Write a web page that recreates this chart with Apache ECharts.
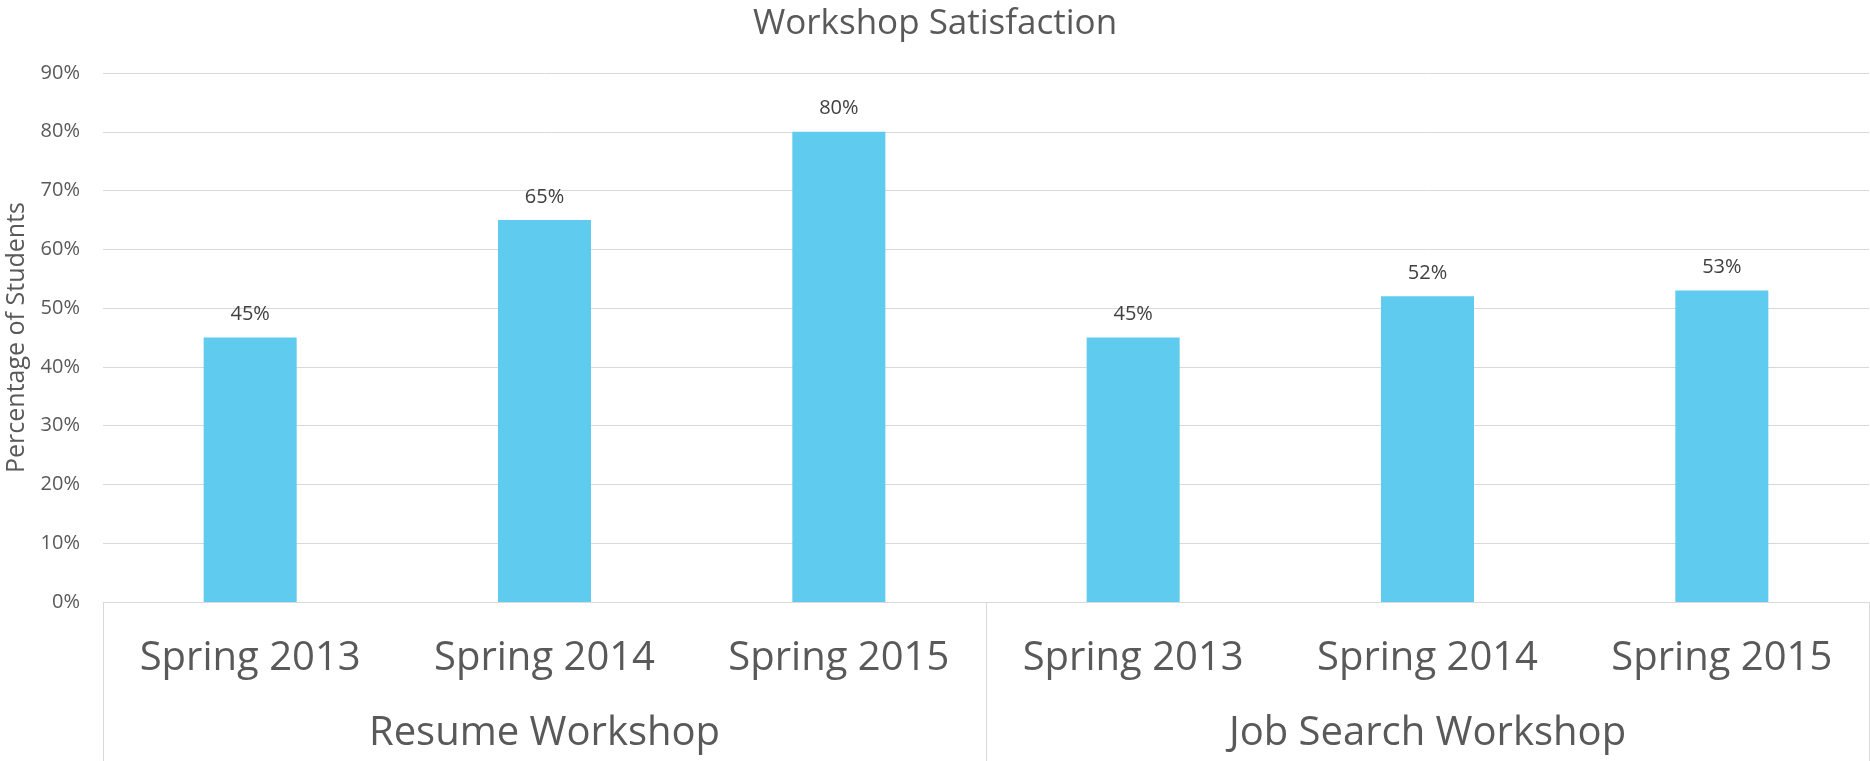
<!DOCTYPE html>
<html>
<head>
<meta charset="utf-8">
<title>Workshop Satisfaction</title>
<script src="https://cdn.jsdelivr.net/npm/echarts@6/dist/echarts.min.js"></script>
<style>
    html, body { margin: 0; padding: 0; background: #fff; }
    #chart { width: 1870px; height: 761px; }
</style>
</head>
<body>
<div id="chart"></div>
<script>
// data
var terms = ['Spring 2013', 'Spring 2014', 'Spring 2015', 'Spring 2013', 'Spring 2014', 'Spring 2015'];
var workshops = ['Resume Workshop', 'Job Search Workshop'];
var satisfaction = [45, 65, 80, 45, 52, 53];
var yMax = 90;
var yStep = 10;

var fontName = '"Open Sans", "Noto Sans", sans-serif';
var gridColor = '#d9d9d9';

var option = {
    title: {
        text: 'Workshop Satisfaction',
        left: 'center',
        top: 7,
        padding: 0,
        textStyle: {
            color: '#595959',
            fontSize: 35,
            fontWeight: 'normal',
            fontFamily: fontName
        }
    },
    grid: {
        left: 103,
        right: 1,
        top: 73,
        bottom: 159,
        containLabel: false,
        outerBoundsMode: 'none'
    },
    xAxis: [
        {
            // lower level: terms
            type: 'category',
            position: 'bottom',
            data: terms,
            axisLine: { show: true, lineStyle: { color: gridColor, width: 1 } },
            axisTick: { show: false },
            axisLabel: {
                interval: 0,
                margin: 37,
                color: '#595959',
                fontSize: 40,
                fontFamily: fontName
            }
        },
        {
            // upper level: workshop groups
            type: 'category',
            position: 'bottom',
            offset: 0,
            data: workshops,
            axisLine: { show: false },
            axisTick: {
                show: true,
                interval: 0,
                length: 170,
                lineStyle: { color: gridColor, width: 1 }
            },
            axisLabel: {
                interval: 0,
                margin: 112,
                color: '#595959',
                fontSize: 40,
                fontFamily: fontName
            }
        }
    ],
    yAxis: {
        type: 'value',
        min: 0,
        max: yMax,
        interval: yStep,
        name: 'Percentage of Students',
        nameLocation: 'middle',
        nameGap: 68,
        nameTextStyle: {
            color: '#595959',
            fontSize: 25,
            fontFamily: fontName
        },
        axisLine: { show: false },
        axisTick: { show: false },
        axisLabel: {
            formatter: '{value}%',
            margin: 23,
            color: '#595959',
            fontSize: 20,
            fontFamily: fontName
        },
        splitLine: { lineStyle: { color: gridColor, width: 1 } }
    },
    series: [
        {
            type: 'bar',
            xAxisIndex: 0,
            barWidth: 93,
            data: satisfaction,
            itemStyle: { color: '#5ecbef' },
            label: {
                show: true,
                position: 'top',
                distance: 13,
                formatter: '{c}%',
                color: '#404040',
                fontSize: 20,
                fontFamily: fontName
            }
        }
    ]
};

var myChart = echarts.init(document.getElementById('chart'));
myChart.setOption(option);
</script>
</body>
</html>
